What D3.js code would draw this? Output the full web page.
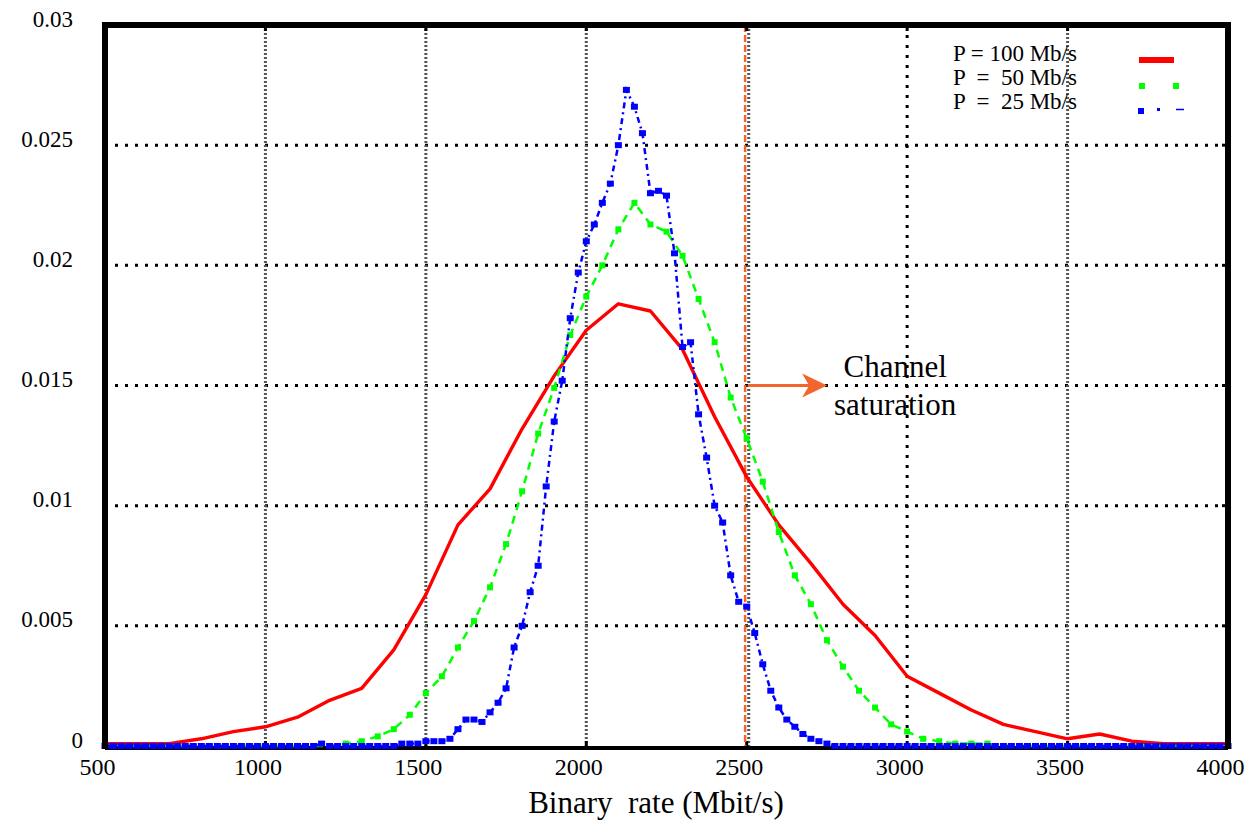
<!DOCTYPE html>
<html>
<head>
<meta charset="utf-8">
<script src="https://cdn.jsdelivr.net/npm/d3@7/dist/d3.min.js"></script>
<style>
  body { margin: 0; background: #fff; }
  text { font-family: "Liberation Serif", "Times New Roman", serif; fill: #000; }
</style>
</head>
<body>
<div id="chart-container"></div>
<script>
//data
var xTicks = [500, 1000, 1500, 2000, 2500, 3000, 3500, 4000];
var yTicks = [0, 0.005, 0.01, 0.015, 0.02, 0.025, 0.03];
var yTickLabels = ['0', '0.005', '0.01', '0.015', '0.02', '0.025', '0.03'];
var xLabel = 'Binary  rate (Mbit/s)';
var legendLabels = ['P = 100 Mb/s', 'P  =  50 Mb/s', 'P  =  25 Mb/s'];
var saturationRate = 2495;
var saturationLevel = 0.015;
var saturationText = ['Channel', 'saturation'];

// P = 100 Mb/s
var redX = [500, 600, 700, 800, 900, 1000, 1100, 1200, 1300, 1400, 1500, 1600,
    1700, 1800, 1900, 2000, 2100, 2200, 2300, 2400, 2500, 2600, 2700, 2800,
    2900, 3000, 3100, 3200, 3300, 3400, 3500, 3600, 3700, 3800, 3900, 4000];
var redY = [0.0001, 0.0001, 0.0001, 0.0003, 0.0006, 0.0008, 0.0012, 0.0019, 0.0024, 0.0040, 0.0063, 0.0092,
    0.0107, 0.0132, 0.0154, 0.0173, 0.0184, 0.0181, 0.0165, 0.0137, 0.0112, 0.0092, 0.0076, 0.0059,
    0.0046, 0.0029, 0.0022, 0.0015, 0.0009, 0.0006, 0.0003, 0.0005, 0.0002, 0.0001, 0.0001, 0.0001];

// P = 50 Mb/s
var greenX = [500, 550, 600, 650, 700, 750, 800, 850, 900, 950, 1000, 1050, 1100, 1150, 1200,
    1250, 1300, 1350, 1400, 1450, 1500, 1550, 1600, 1650, 1700, 1750, 1800, 1850, 1900, 1950,
    2000, 2050, 2100, 2150, 2200, 2250, 2300, 2350, 2400, 2450, 2500, 2550, 2600, 2650, 2700,
    2750, 2800, 2850, 2900, 2950, 3000, 3050, 3100, 3150, 3200, 3250,
    3300, 3350, 3400, 3450, 3500, 3550, 3600, 3650, 3700, 3750, 3800, 3850, 3900, 3950, 4000];
var greenY = [0, 0, 0, 0, 0, 0, 0, 0, 0, 0, 0, 0, 0, 0, 0,
    0.0001, 0.0002, 0.0004, 0.0007, 0.0013, 0.0022, 0.0029, 0.0041, 0.0052, 0.0066, 0.0084, 0.0106, 0.0130, 0.0149, 0.0171,
    0.0187, 0.0200, 0.0215, 0.0226, 0.0217, 0.0214, 0.0204, 0.0186, 0.0168, 0.0145, 0.0128, 0.0110, 0.0089, 0.0071, 0.0059,
    0.0044, 0.0033, 0.0023, 0.0016, 0.0009, 0.0006, 0.0003, 0.0002, 0.0001, 0.0001, 0.0001,
    0, 0, 0, 0, 0, 0, 0, 0, 0, 0, 0, 0, 0, 0, 0];

// P = 25 Mb/s
var blueX = [500, 525, 550, 575, 600, 625, 650, 675, 700, 725, 750, 775, 800, 825, 850, 875,
    900, 925, 950, 975, 1000, 1025, 1050, 1075, 1100, 1125, 1150, 1175, 1200, 1225, 1250, 1275,
    1300, 1325, 1350, 1375,
    1400, 1425, 1450, 1475, 1500, 1525, 1550, 1575, 1600, 1625, 1650, 1675, 1700, 1725, 1750, 1775,
    1800, 1825, 1850, 1875, 1900, 1925, 1950, 1975, 2000, 2025, 2050, 2075, 2100, 2125, 2150, 2175,
    2200, 2225, 2250, 2275, 2300, 2325, 2350, 2375, 2400, 2425, 2450, 2475, 2500, 2525, 2550, 2575,
    2600, 2625, 2650, 2675, 2700, 2725, 2750, 2775, 2800,
    2825, 2850, 2875, 2900, 2925, 2950, 2975, 3000, 3025, 3050, 3075, 3100, 3125, 3150, 3175, 3200,
    3225, 3250, 3275, 3300, 3325, 3350, 3375, 3400, 3425, 3450, 3475, 3500, 3525, 3550, 3575, 3600,
    3625, 3650, 3675, 3700, 3725, 3750, 3775, 3800, 3825, 3850, 3875, 3900, 3925, 3950, 3975, 4000];
var blueY = [0, 0, 0, 0, 0, 0, 0, 0, 0, 0, 0, 0, 0, 0, 0, 0,
    0, 0, 0, 0, 0, 0, 0, 0, 0, 0, 0, 0.0001, 0, 0, 0, 0,
    0, 0, 0, 0,
    0, 0.0001, 0.0001, 0.0001, 0.0002, 0.0002, 0.0002, 0.0003, 0.0007, 0.0011, 0.0011, 0.0010, 0.0014, 0.0018, 0.0024, 0.0041,
    0.0050, 0.0064, 0.0075, 0.0108, 0.0135, 0.0152, 0.0178, 0.0197, 0.0210, 0.0217, 0.0226, 0.0234, 0.0250, 0.0273, 0.0266, 0.0255,
    0.0230, 0.0231, 0.0229, 0.0205, 0.0166, 0.0168, 0.0138, 0.0120, 0.0100, 0.0093, 0.0071, 0.0060, 0.0058, 0.0047, 0.0034, 0.0023,
    0.0016, 0.0011, 0.0008, 0.0005, 0.0003, 0.0002, 0.0001, 0, 0,
    0, 0, 0, 0, 0, 0, 0, 0, 0, 0, 0, 0, 0, 0, 0, 0,
    0, 0, 0, 0, 0, 0, 0, 0, 0, 0, 0, 0, 0, 0, 0, 0,
    0, 0, 0, 0, 0, 0, 0, 0, 0, 0, 0, 0, 0, 0, 0, 0];

//sizes
var outerW = 1247,
    outerH = 826,
    margin = {left: 105, right: 19, top: 25, bottom: 80},
    w = outerW - margin.left - margin.right,
    h = outerH - margin.top - margin.bottom;

var red = '#ff0000',
    green = '#00ff00',
    blue = '#0000ff',
    orange = '#f3652b';

function zip(xs, ys) {
    return xs.map(function(x, i) { return {x: x, y: ys[i]}; });
}

var svg = d3.select('#chart-container').append('svg')
    .attr('width', outerW)
    .attr('height', outerH);

var g = svg.append('g')
    .attr('transform', 'translate(' + margin.left + ', ' + margin.top + ')');

//scales
var xScale = d3.scaleLinear().domain([500, 4000]).range([0, w]),
    yScale = d3.scaleLinear().domain([0, 0.03]).range([h, 0]);

//grid
g.selectAll('.h-grid')
    .data(yTicks.slice(1, -1))
    .enter().append('line')
    .attr('class', 'h-grid')
    .attr('x1', 0).attr('x2', w)
    .attr('y1', function(d) { return yScale(d); })
    .attr('y2', function(d) { return yScale(d); })
    .attr('stroke', '#000')
    .attr('stroke-width', 3)
    .attr('stroke-dasharray', '3,7');

g.selectAll('.v-grid')
    .data(xTicks.slice(1, -1))
    .enter().append('line')
    .attr('class', 'v-grid')
    .attr('x1', function(d) { return xScale(d) + (d == 2500 ? 2 : 0); })
    .attr('x2', function(d) { return xScale(d) + (d == 2500 ? 2 : 0); })
    .attr('y1', 0).attr('y2', h)
    .attr('stroke', function(d) { return d == 3000 ? '#000' : '#555'; })
    .attr('stroke-width', 3)
    .attr('stroke-dasharray', function(d) { return d == 3000 ? '3,7' : '2,2'; });

//bottom frame sits under the curves
g.append('line')
    .attr('x1', 0).attr('x2', w)
    .attr('y1', h + 2).attr('y2', h + 2)
    .attr('stroke', '#000')
    .attr('stroke-width', 4);

//bottom ticks
g.selectAll('.bottom-tick')
    .data(xTicks.slice(1, -1))
    .enter().append('line')
    .attr('class', 'bottom-tick')
    .attr('x1', function(d) { return xScale(d); })
    .attr('x2', function(d) { return xScale(d); })
    .attr('y1', h - 5).attr('y2', h)
    .attr('stroke', '#000').attr('stroke-width', 3);

//channel saturation marker
var satX = xScale(saturationRate),
    satY = yScale(saturationLevel);

g.append('line')
    .attr('x1', satX).attr('x2', satX)
    .attr('y1', 0).attr('y2', h)
    .attr('stroke', orange)
    .attr('stroke-width', 2.5)
    .attr('stroke-dasharray', '7,3');

g.append('line')
    .attr('x1', satX + 3).attr('x2', satX + 64)
    .attr('y1', satY).attr('y2', satY)
    .attr('stroke', orange)
    .attr('stroke-width', 3);

g.append('path')
    .attr('d', 'M' + (satX + 82) + ',' + satY +
        ' L' + (satX + 57) + ',' + (satY - 12) +
        ' L' + (satX + 64) + ',' + satY +
        ' L' + (satX + 57) + ',' + (satY + 12) + ' Z')
    .attr('fill', orange);

g.selectAll('.sat-label')
    .data(saturationText)
    .enter().append('text')
    .attr('class', 'sat-label')
    .attr('x', satX + 150)
    .attr('y', function(d, i) { return satY - 9 + i * 38; })
    .attr('text-anchor', 'middle')
    .style('font-size', '31px')
    .text(function(d) { return d; });

//lines
var line = d3.line()
    .x(function(d) { return xScale(d.x); })
    .y(function(d) { return yScale(d.y); });

var redData = zip(redX, redY),
    greenData = zip(greenX, greenY),
    blueData = zip(blueX, blueY);

g.append('path')
    .datum(redData)
    .attr('d', line)
    .attr('fill', 'none')
    .attr('stroke', red)
    .attr('stroke-width', 3.4)
    .attr('stroke-linejoin', 'round');

g.append('path')
    .datum(greenData)
    .attr('d', line)
    .attr('fill', 'none')
    .attr('stroke', green)
    .attr('stroke-width', 2.5)
    .attr('stroke-dasharray', '8,6');

g.selectAll('.green-pt')
    .data(greenData)
    .enter().append('rect')
    .attr('class', 'green-pt')
    .attr('x', function(d) { return xScale(d.x) - 3; })
    .attr('y', function(d) { return yScale(d.y) - 3; })
    .attr('width', 6).attr('height', 6)
    .attr('fill', green);

g.append('path')
    .datum(blueData)
    .attr('d', line)
    .attr('fill', 'none')
    .attr('stroke', blue)
    .attr('stroke-width', 2.5)
    .attr('stroke-dasharray', '6,4,2,4');

g.selectAll('.blue-pt')
    .data(blueData)
    .enter().append('rect')
    .attr('class', 'blue-pt')
    .attr('x', function(d) { return xScale(d.x) - 3.5; })
    .attr('y', function(d) { return yScale(d.y) - 3; })
    .attr('width', 7).attr('height', 6)
    .attr('fill', blue);

//frame
g.append('path')
    .attr('d', 'M0,' + (h + 3) + ' L0,0 L' + w + ',0 L' + w + ',' + (h + 3))
    .attr('fill', 'none')
    .attr('stroke', '#000')
    .attr('stroke-width', 6);

//mirror ticks
g.selectAll('.top-tick')
    .data(xTicks.slice(1, -1))
    .enter().append('line')
    .attr('class', 'top-tick')
    .attr('x1', function(d) { return xScale(d); })
    .attr('x2', function(d) { return xScale(d); })
    .attr('y1', 0).attr('y2', 6)
    .attr('stroke', '#000').attr('stroke-width', 3);

g.selectAll('.right-tick')
    .data(yTicks.slice(1, -1))
    .enter().append('line')
    .attr('class', 'right-tick')
    .attr('x1', w - 6).attr('x2', w)
    .attr('y1', function(d) { return yScale(d); })
    .attr('y2', function(d) { return yScale(d); })
    .attr('stroke', '#000').attr('stroke-width', 3);

//axes
var xAxis = d3.axisBottom(xScale)
    .tickValues(xTicks)
    .tickFormat(d3.format('d'))
    .tickSize(0);

var xAxisG = g.append('g')
    .attr('transform', 'translate(0,' + h + ')')
    .call(xAxis);
xAxisG.select('.domain').remove();
xAxisG.selectAll('text')
    .attr('y', 29)
    .attr('dy', 0)
    .attr('x', -8)
    .attr('fill', '#000')
    .style('font-size', '24px')
    .style('font-family', '"Liberation Serif", "Times New Roman", serif');

var yAxis = d3.axisLeft(yScale)
    .tickValues(yTicks)
    .tickFormat(function(d, i) { return yTickLabels[i]; })
    .tickSize(0);

var yAxisG = g.append('g').call(yAxis);
yAxisG.select('.domain').remove();
yAxisG.selectAll('text')
    .attr('x', function(d) { return d == 0 ? -22 : -32; })
    .attr('y', 1)
    .attr('dy', 0)
    .attr('fill', '#000')
    .style('font-size', '23px')
    .style('font-family', '"Liberation Serif", "Times New Roman", serif');

svg.append('text')
    .attr('x', 656)
    .attr('y', 813)
    .attr('text-anchor', 'middle')
    .attr('xml:space', 'preserve')
    .style('white-space', 'pre')
    .style('font-size', '31px')
    .text(xLabel);

//legend
var legend = svg.append('g').attr('class', 'legend');

legend.selectAll('text')
    .data(legendLabels)
    .enter().append('text')
    .attr('x', 953)
    .attr('y', function(d, i) { return 61 + i * 24; })
    .attr('xml:space', 'preserve')
    .style('white-space', 'pre')
    .style('font-size', '23px')
    .text(function(d) { return d; });

legend.append('line')
    .attr('x1', 1139).attr('x2', 1174)
    .attr('y1', 60).attr('y2', 60)
    .attr('stroke', red).attr('stroke-width', 6);

legend.selectAll('.lg-green')
    .data([1142, 1176])
    .enter().append('rect')
    .attr('class', 'lg-green')
    .attr('x', function(d) { return d - 3; })
    .attr('y', 83)
    .attr('width', 6).attr('height', 6)
    .attr('fill', green);

legend.append('rect')
    .attr('x', 1138).attr('y', 108)
    .attr('width', 6).attr('height', 6)
    .attr('fill', blue);
legend.append('rect')
    .attr('x', 1157).attr('y', 108)
    .attr('width', 3).attr('height', 3)
    .attr('fill', blue);
legend.append('line')
    .attr('x1', 1176).attr('x2', 1184)
    .attr('y1', 109.5).attr('y2', 109.5)
    .attr('stroke', blue).attr('stroke-width', 1.5);
</script>
</body>
</html>
